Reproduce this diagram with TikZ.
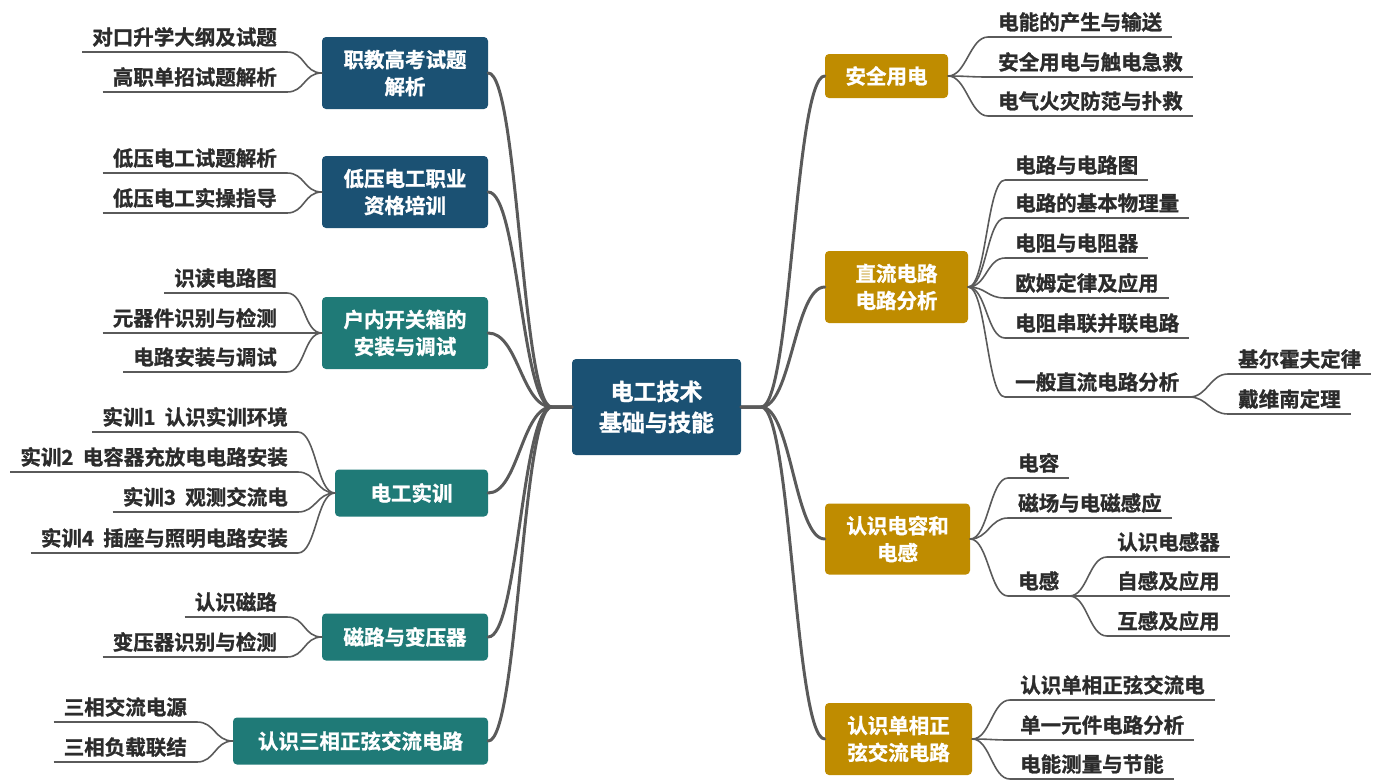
\documentclass[tikz,border=0pt]{standalone}
\usepackage{fontspec}
\setmainfont{Noto Sans CJK SC}[UprightFont={* Bold},UprightFeatures={FakeBold=1.2},BoldFont={* Black}]
\definecolor{cblue}{HTML}{1B5173}
\definecolor{cteal}{HTML}{1F7A77}
\definecolor{cgold}{HTML}{BF8C00}
\definecolor{cline}{HTML}{5A5A5A}
\definecolor{ctext}{HTML}{2C2C2C}
\begin{document}
\begin{tikzpicture}[x=1pt,y=-1pt,
  box/.style={rounded corners=4pt, text=white, font=\fontsize{20.5}{27}\selectfont, align=center, inner sep=0pt},
  bluebox/.style={box, fill=cblue},
  tealbox/.style={box, fill=cteal},
  goldbox/.style={box, fill=cgold},
  leafL/.style={anchor=south east, font=\fontsize{20.5}{24}\selectfont, text=ctext, inner xsep=10pt, inner ysep=3pt, text depth=4pt, text height=15pt},
  leafR/.style={leafL, anchor=south west},
  uline/.style={draw=cline, line width=1.2pt},
  trunk/.style={draw=cline, line width=3pt, line cap=round},
  branch/.style={draw=cline, line width=1.6pt, line cap=round}]
\useasboundingbox (0,0) rectangle (1377,780);

% center
\node[bluebox, minimum width=169pt, minimum height=96pt, font=\fontsize{23}{31}\selectfont] (c) at (656.5,407) {电工技术\\基础与技能};

% left boxes
\node[bluebox, minimum width=166pt, minimum height=72pt] (L1) at (405,73) {职教高考试题\\解析};
\node[bluebox, minimum width=166pt, minimum height=72pt] (L2) at (405,192) {低压电工职业\\资格培训};
\node[tealbox, minimum width=166pt, minimum height=72pt] (L3) at (405,333) {户内开关箱的\\安装与调试};
\node[tealbox, minimum width=153pt, minimum height=47pt] (L4) at (411.5,493) {电工实训};
\node[tealbox, minimum width=166pt, minimum height=47pt] (L5) at (405,637) {磁路与变压器};
\node[tealbox, minimum width=255pt, minimum height=47pt] (L6) at (360.5,741) {认识三相正弦交流电路};

% right boxes
\node[goldbox, minimum width=123pt, minimum height=44pt] (R1) at (886.5,76) {安全用电};
\node[goldbox, minimum width=143pt, minimum height=72pt] (R2) at (896.5,287) {直流电路\\电路分析};
\node[goldbox, minimum width=145pt, minimum height=71pt] (R3) at (897.5,539) {认识电容和\\电感};
\node[goldbox, minimum width=147pt, minimum height=72pt] (R4) at (898.5,739) {认识单相正\\弦交流电路};

% trunks
\foreach \b in {L1,L2,L3,L4,L5,L6}
  \draw[trunk] (c.west) -- ++(-20,0) .. controls +(-30,0) and +(30,0) .. (\b.east);
\foreach \b in {R1,R2,R3,R4}
  \draw[trunk] (c.east) -- ++(20,0) .. controls +(30,0) and +(-30,0) .. (\b.west);

% left leaves
\node[leafL] (a1) at (287,52) {对口升学大纲及试题};
\node[leafL] (a2) at (287,92) {高职单招试题解析};
\node[leafL] (b1) at (287,173) {低压电工试题解析};
\node[leafL] (b2) at (287,213) {低压电工实操指导};
\node[leafL] (d1) at (287,293) {识读电路图};
\node[leafL] (d2) at (287,333) {元器件识别与检测};
\node[leafL] (d3) at (287,372) {电路安装与调试};
\node[leafL] (e1) at (298,432) {实训1\ \ 认识实训环境};
\node[leafL] (e2) at (298,472) {实训2\ \ 电容器充放电电路安装};
\node[leafL] (e3) at (298,512) {实训3\ \ 观测交流电};
\node[leafL] (e4) at (298,553) {实训4\ \ 插座与照明电路安装};
\node[leafL] (f1) at (287,617) {认识磁路};
\node[leafL] (f2) at (287,657) {变压器识别与检测};
\node[leafL] (g1) at (197,722) {三相交流电源};
\node[leafL] (g2) at (197,762) {三相负载联结};

\foreach \n in {a1,a2,b1,b2,d1,d2,d3,e1,e2,e3,e4,f1,f2,g1,g2}
  \draw[uline] (\n.south west) -- (\n.south east);
\foreach \p/\n in {L1/a1,L1/a2,L2/b1,L2/b2,L3/d1,L3/d2,L3/d3,L4/e1,L4/e2,L4/e3,L4/e4,L5/f1,L5/f2,L6/g1,L6/g2}
  \draw[branch] (\p.west) .. controls +(-18,0) and +(18,0) .. (\n.south east);

% right leaves
\node[leafR] (p1) at (988,37) {电能的产生与输送};
\node[leafR] (p2) at (988,77) {安全用电与触电急救};
\node[leafR] (p3) at (988,116) {电气火灾防范与扑救};
\node[leafR] (q1) at (1005,180) {电路与电路图};
\node[leafR] (q2) at (1005,218) {电路的基本物理量};
\node[leafR] (q3) at (1005,258) {电阻与电阻器};
\node[leafR] (q4) at (1005,298) {欧姆定律及应用};
\node[leafR] (q5) at (1005,338) {电阻串联并联电路};
\node[leafR] (q6) at (1005,397) {一般直流电路分析};
\node[leafR] (q61) at (1228,374) {基尔霍夫定律};
\node[leafR] (q62) at (1228,414) {戴维南定理};
\node[leafR] (s1) at (1008,478) {电容};
\node[leafR] (s2) at (1008,518) {磁场与电磁感应};
\node[leafR] (s3) at (1008,596) {电感};
\node[leafR] (s31) at (1107,557) {认识电感器};
\node[leafR] (s32) at (1107,596) {自感及应用};
\node[leafR] (s33) at (1107,636) {互感及应用};
\node[leafR] (t1) at (1010,700) {认识单相正弦交流电};
\node[leafR] (t2) at (1010,740) {单一元件电路分析};
\node[leafR] (t3) at (1010,779) {电能测量与节能};

\foreach \n in {p1,p2,p3,q1,q2,q3,q4,q5,q6,q61,q62,s1,s2,s3,s31,s32,s33,t1,t2,t3}
  \draw[uline] (\n.south west) -- (\n.south east);
\foreach \p/\n in {R1/p1,R1/p2,R1/p3,R2/q1,R2/q2,R2/q3,R2/q4,R2/q5,R2/q6,R3/s1,R3/s2,R3/s3,R4/t1,R4/t2,R4/t3}
  \draw[branch] (\p.east) .. controls +(18,0) and +(-18,0) .. (\n.south west);
\foreach \p/\n in {q6/q61,q6/q62,s3/s31,s3/s32,s3/s33}
  \draw[branch] (\p.south east) .. controls +(18,0) and +(-18,0) .. (\n.south west);
\end{tikzpicture}
\end{document}
